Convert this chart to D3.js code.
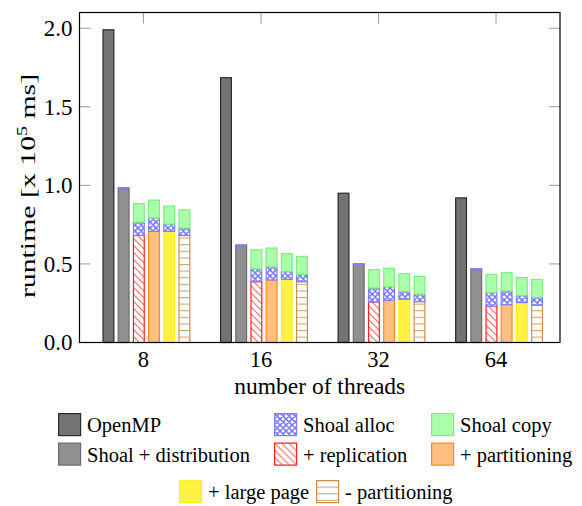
<!DOCTYPE html>
<html>
<head>
<meta charset="utf-8">
<title>Runtime by number of threads</title>
<style>
  body { margin: 0; background: #fff; }
  svg, svg text { font-family: 'Liberation Serif', 'Times New Roman', 'DejaVu Serif', serif; }
</style>
</head>
<body>
<script src="https://d3js.org/d3.v7.min.js"></script>
<script>
// thread counts on the x axis
var groups = ["8", "16", "32", "64"];
var yTicks = [0, 0.5, 1.0, 1.5, 2.0];

// runtime values in units of 10^5 ms
var openmp = [1.99, 1.685, 0.95, 0.92];
var shoalDist = [0.978, 0.616, 0.497, 0.463];
var shoalDistAlloc = [0.008, 0.006, 0.005, 0.007];

var replication = [0.681, 0.387, 0.258, 0.231];
var replicationAlloc = [0.085, 0.081, 0.089, 0.086];
var replicationCopy = [0.117, 0.122, 0.116, 0.117];

var partitioning = [0.707, 0.398, 0.269, 0.241];
var partitioningAlloc = [0.085, 0.083, 0.087, 0.087];
var partitioningCopy = [0.114, 0.120, 0.116, 0.116];

var largePage = [0.707, 0.402, 0.275, 0.254];
var largePageAlloc = [0.047, 0.049, 0.049, 0.044];
var largePageCopy = [0.114, 0.114, 0.114, 0.115];

var minusPart = [0.681, 0.387, 0.260, 0.237];
var minusPartAlloc = [0.047, 0.047, 0.047, 0.049];
var minusPartCopy = [0.116, 0.114, 0.114, 0.114];

var width = 582, height = 506;
var plot = { left: 79.5, right: 560, top: 12.5, bottom: 342.5 };
var serif = "Liberation Serif";

var svg = d3.select("body").append("svg")
    .attr("width", width)
    .attr("height", height)
    .attr("font-family", serif);

// fill patterns
var defs = svg.append("defs");

var cross = defs.append("pattern").attr("id", "cross")
    .attr("patternUnits", "userSpaceOnUse").attr("width", 6).attr("height", 6);
cross.append("rect").attr("width", 6).attr("height", 6).attr("fill", "#f4f4ff");
cross.append("path").attr("d", "M0,0L6,6M6,0L0,6M-1,5L1,7M5,-1L7,1M-1,1L1,-1M5,7L7,5")
    .attr("stroke", "#7676ff").attr("stroke-width", 1.5);

var diag = defs.append("pattern").attr("id", "diag")
    .attr("patternUnits", "userSpaceOnUse").attr("width", 7).attr("height", 7);
diag.append("rect").attr("width", 7).attr("height", 7).attr("fill", "#fff");
diag.append("path").attr("d", "M0,0L7,7M-1,6L1,8M6,-1L8,1")
    .attr("stroke", "#ff6a6a").attr("stroke-width", 1.1);

var horiz = defs.append("pattern").attr("id", "horiz")
    .attr("patternUnits", "userSpaceOnUse").attr("width", 6).attr("height", 6.6);
horiz.append("rect").attr("width", 6).attr("height", 6.6).attr("fill", "#fff");
horiz.append("path").attr("d", "M0,0.5L6,0.5")
    .attr("stroke", "#d6a46c").attr("stroke-width", 1.2);

var styles = {
  openmp:   { fill: "#737373", stroke: "#2a2a2a" },
  dist:     { fill: "#909090", stroke: "#6c6c6c" },
  alloc:    { fill: "url(#cross)", stroke: "#8080ff" },
  copy:     { fill: "#aaffaa", stroke: "#7ded7d" },
  repl:     { fill: "url(#diag)", stroke: "#ff2020" },
  part:     { fill: "#ffbf80", stroke: "#ff8a1a" },
  large:    { fill: "#fff244", stroke: "#ffee22" },
  minus:    { fill: "url(#horiz)", stroke: "#d08c4c" }
};

// one entry per bar in each cluster: list of stacked segments
var bars = [
  { name: "OpenMP", parts: [[openmp, "openmp"]] },
  { name: "Shoal + distribution", parts: [[shoalDist, "dist"], [shoalDistAlloc, "alloc"]] },
  { name: "+ replication", parts: [[replication, "repl"], [replicationAlloc, "alloc"], [replicationCopy, "copy"]] },
  { name: "+ partitioning", parts: [[partitioning, "part"], [partitioningAlloc, "alloc"], [partitioningCopy, "copy"]] },
  { name: "+ large page", parts: [[largePage, "large"], [largePageAlloc, "alloc"], [largePageCopy, "copy"]] },
  { name: "- partitioning", parts: [[minusPart, "minus"], [minusPartAlloc, "alloc"], [minusPartCopy, "copy"]] }
];

var x = d3.scaleLinear().domain([-0.544, groups.length - 1 + 0.544]).range([plot.left, plot.right]);
var inner = d3.scaleBand().domain(bars.map(function(b) { return b.name; }))
    .range([-41, 47]).paddingInner(0.21);
var y = d3.scaleLinear().domain([0, 2.1]).range([plot.bottom, plot.top]);

// ticks (drawn inside the frame)
var g = svg.append("g");
yTicks.forEach(function(t) {
  g.append("line").attr("x1", plot.left).attr("x2", plot.left + 11)
    .attr("y1", y(t)).attr("y2", y(t)).attr("stroke", "#9a9a9a");
  g.append("line").attr("x1", plot.right).attr("x2", plot.right - 11)
    .attr("y1", y(t)).attr("y2", y(t)).attr("stroke", "#9a9a9a");
});
groups.forEach(function(d, i) {
  g.append("line").attr("x1", x(i)).attr("x2", x(i))
    .attr("y1", plot.top).attr("y2", plot.top + 11).attr("stroke", "#9a9a9a");
});

// bars
groups.forEach(function(grp, i) {
  bars.forEach(function(b) {
    var x0 = x(i) + inner(b.name);
    var acc = 0;
    b.parts.forEach(function(p) {
      var v = p[0][i];
      var st = styles[p[1]];
      svg.append("rect")
        .attr("x", x0 + 0.6)
        .attr("width", inner.bandwidth() - 1.2)
        .attr("y", y(acc + v))
        .attr("height", Math.max(0.8, y(acc) - y(acc + v)))
        .attr("fill", st.fill)
        .attr("stroke", st.stroke)
        .attr("stroke-width", 1.2);
      acc += v;
    });
  });
});

// frame
svg.append("rect")
  .attr("x", plot.left).attr("y", plot.top)
  .attr("width", plot.right - plot.left).attr("height", plot.bottom - plot.top)
  .attr("fill", "none").attr("stroke", "#000").attr("stroke-width", 1.2);

// tick labels
svg.append("g").selectAll("text").data(yTicks).join("text")
  .attr("font-family", serif)
  .attr("x", plot.left - 7).attr("y", function(d) { return y(d); })
  .attr("dy", "0.34em")
  .attr("text-anchor", "end").attr("font-size", 23)
  .text(function(d) { return d3.format(".1f")(d); });

svg.append("g").selectAll("text").data(groups).join("text")
  .attr("font-family", serif)
  .attr("x", function(d, i) { return x(i); }).attr("y", 367)
  .attr("text-anchor", "middle").attr("font-size", 22.5)
  .text(function(d) { return d; });

svg.append("text")
  .attr("font-family", serif)
  .attr("x", (plot.left + plot.right) / 2).attr("y", 393.5)
  .attr("text-anchor", "middle").attr("font-size", 23.5)
  .text("number of threads");

var yl = svg.append("text")
  .attr("font-family", serif)
  .attr("transform", "translate(35,186) rotate(-90) scale(1.42,1)")
  .attr("text-anchor", "middle").attr("font-size", 21);
yl.append("tspan").text("runtime [x 10");
yl.append("tspan").attr("font-size", 14).attr("dy", -8).text("5");
yl.append("tspan").attr("dy", 8).text(" ms]");

// legend
var legend = [
  { label: "OpenMP", style: "openmp", x: 58, y: 413 },
  { label: "Shoal alloc", style: "alloc", x: 274, y: 413 },
  { label: "Shoal copy", style: "copy", x: 431, y: 413 },
  { label: "Shoal + distribution", style: "dist", x: 58, y: 442.5 },
  { label: "+ replication", style: "repl", x: 274, y: 442.5 },
  { label: "+ partitioning", style: "part", x: 431, y: 442.5 },
  { label: "+ large page", style: "large", x: 179, y: 480 },
  { label: "- partitioning", style: "minus", x: 316, y: 480 }
];
var lg = svg.append("g").selectAll("g").data(legend).join("g")
  .attr("transform", function(d) { return "translate(" + d.x + "," + d.y + ")"; });
lg.append("rect").attr("x", 0.6).attr("y", 0.6).attr("width", 22).attr("height", 22)
  .attr("fill", function(d) { return styles[d.style].fill; })
  .attr("stroke", function(d) { return styles[d.style].stroke; })
  .attr("stroke-width", 1.2);
lg.append("text").attr("x", 29).attr("y", 19).attr("font-size", 20.5)
  .attr("font-family", serif)
  .text(function(d) { return d.label; });
</script>
</body>
</html>
